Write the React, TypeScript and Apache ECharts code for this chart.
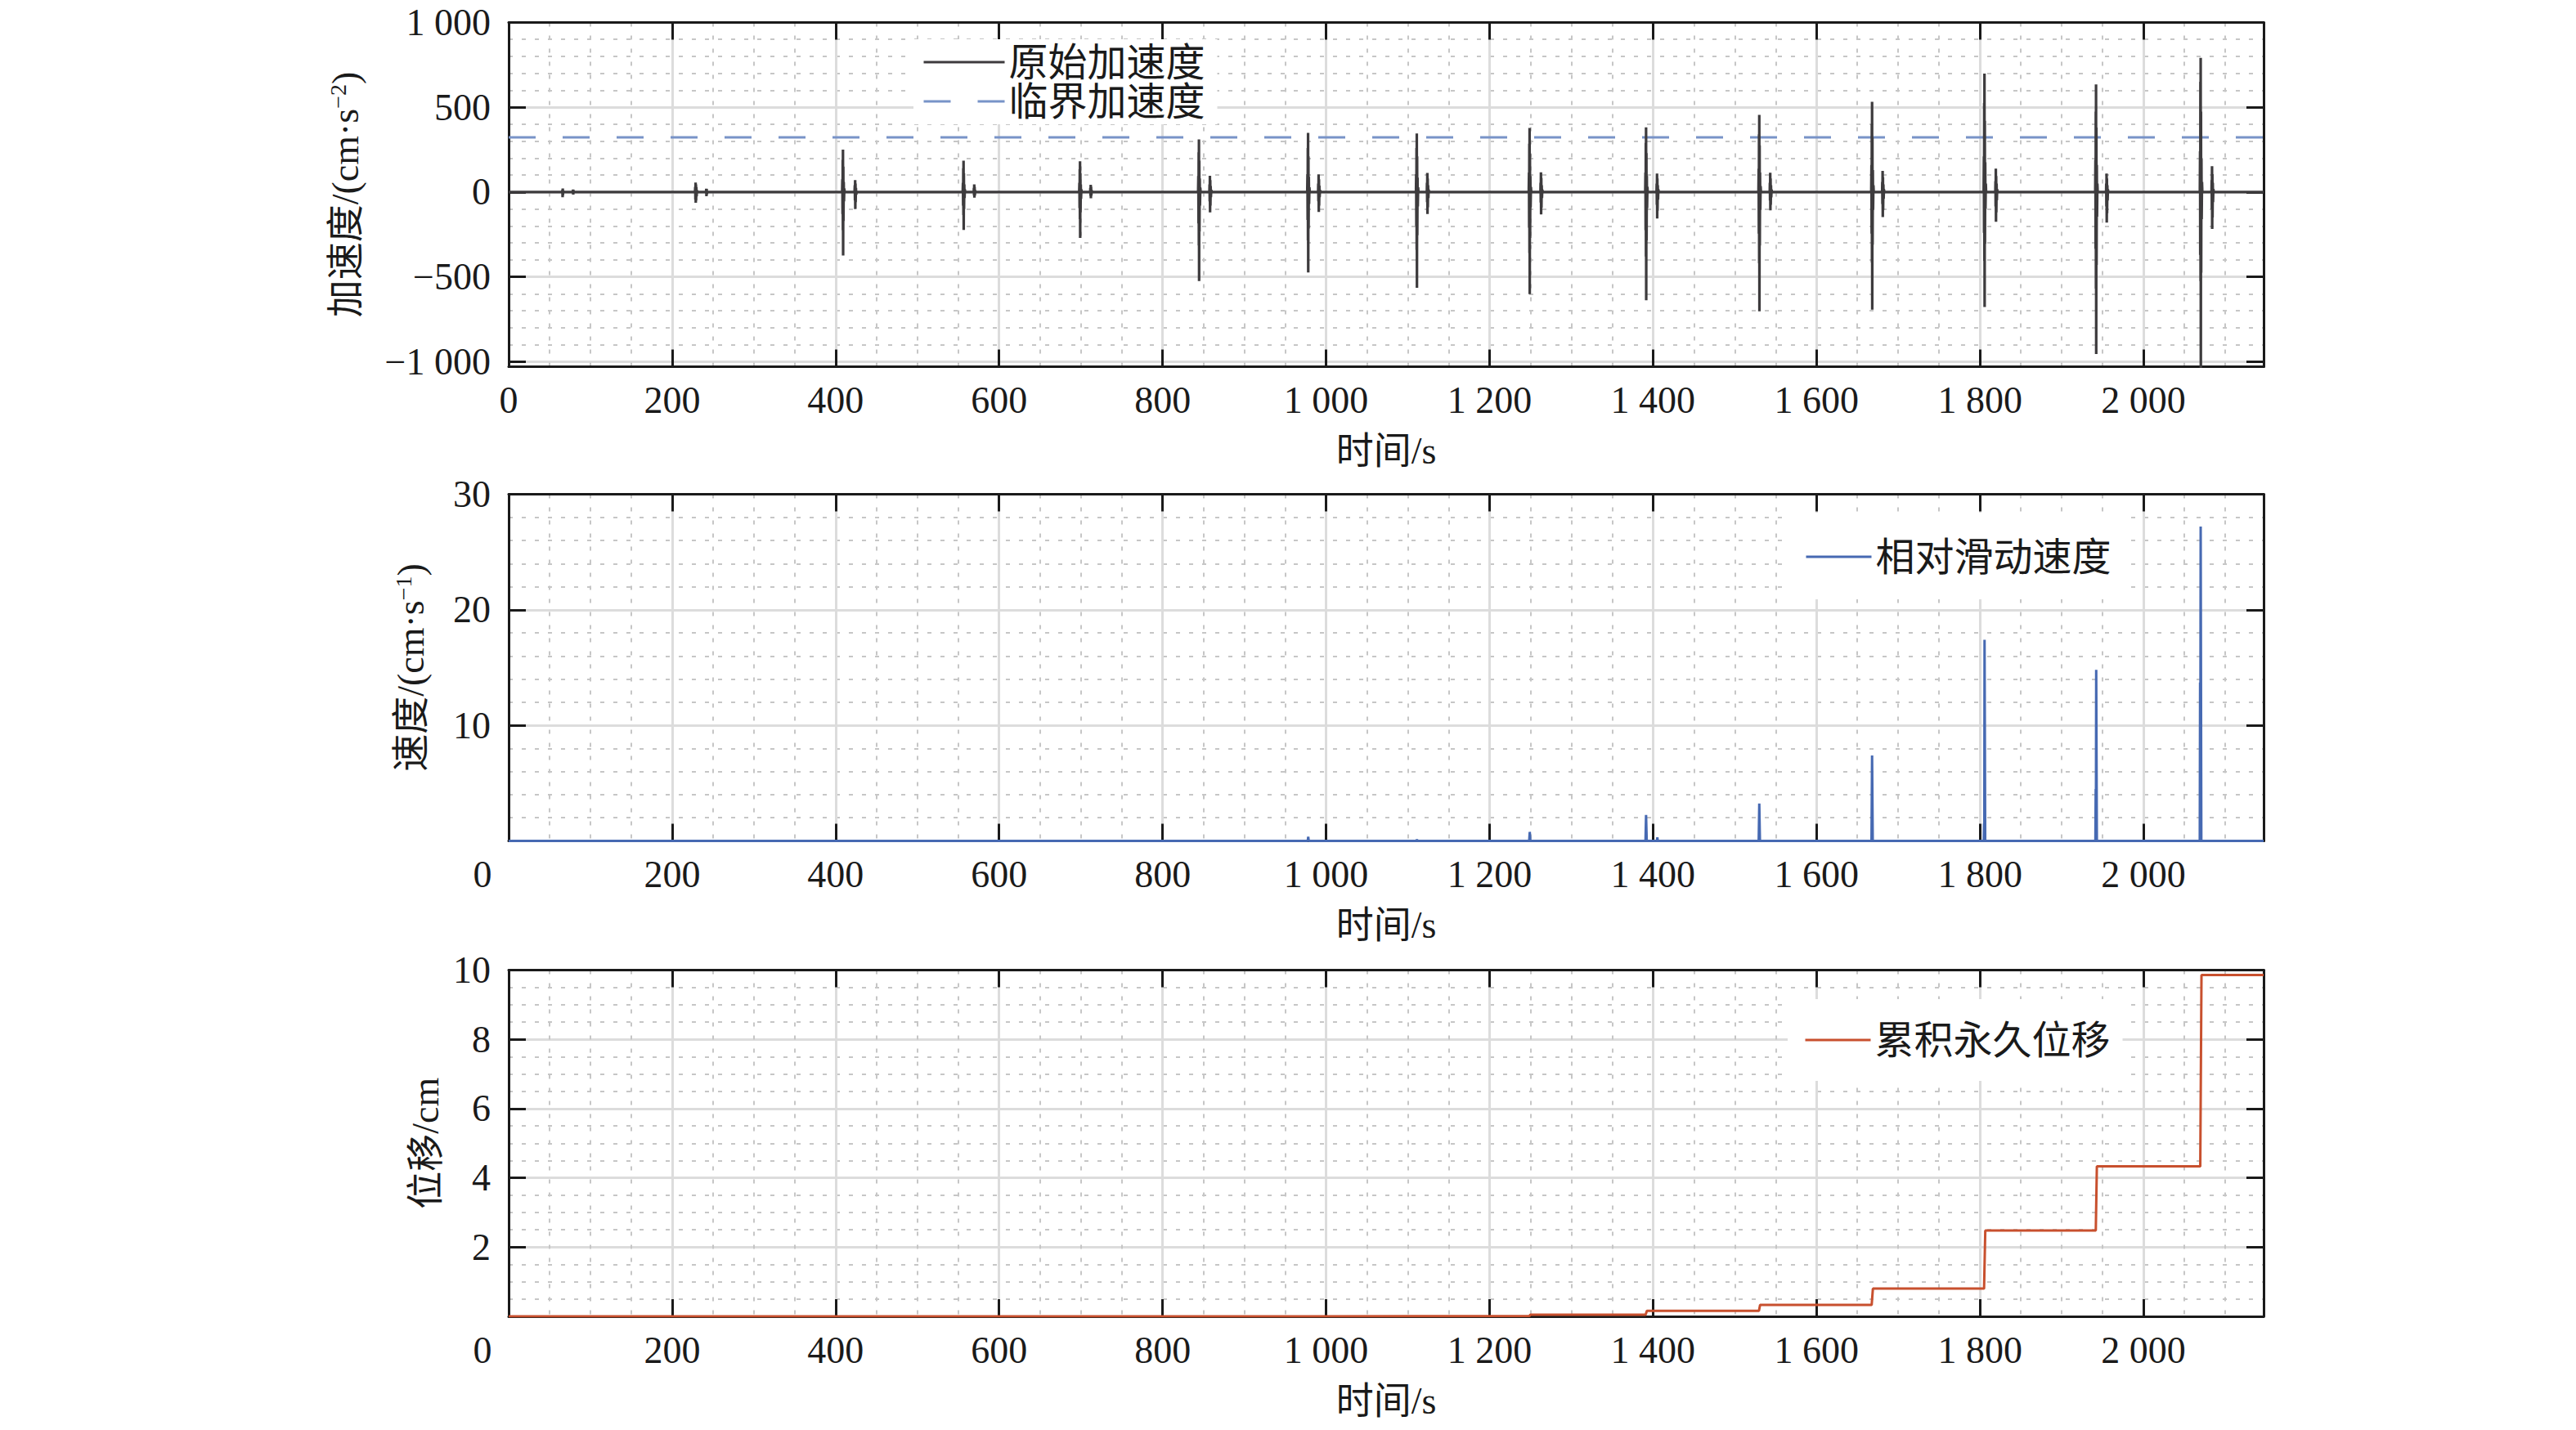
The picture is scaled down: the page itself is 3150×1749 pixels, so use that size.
import React, { useEffect, useRef } from "react";
import * as echarts from "echarts";

const FONT = "'Liberation Serif', 'Noto Sans CJK SC', serif";
const INK = "#1a1a1a";

// ---- data ----
const X_MAX = 2147;
const xTickInterval = 200;

const accelYTicks = [-1000, -500, 0, 500, 1000];
const accelYMinor = [-900, -800, -700, -600, -400, -300, -200, -100, 100, 200, 300, 400, 600, 700, 800, 900];
const criticalAccel = 323;

// ground acceleration trace [time s, accel cm/s^2]
const accelTrace: number[][] = [
  [0, 0],
  [65.5, 0], [65.8, 12], [66, -30], [66.2, 21], [66.4, -18], [66.7, 8], [67, 0],
  [78.6, 0], [78.8, 15], [79, -15], [79.2, 10], [79.5, 0],
  [228, 0], [228.3, 30], [228.5, -45], [228.7, 56], [228.9, -63], [229.1, 45], [229.3, -50], [229.6, 30], [229.9, -25], [230.3, 10], [230.7, 0],
  [241.5, 0], [241.8, 20], [242, -25], [242.2, 18], [242.5, -12], [242.9, 0],
  [408, 0], [408.3, 75], [408.5, -130], [408.7, 190], [408.9, -225], [409, 250], [409.2, -374], [409.4, 150], [409.6, -170], [409.9, 60], [410.2, -55], [410.6, 20], [411, 0],
  [423.2, 0], [423.5, 40], [423.7, -50], [423.9, 70], [424.1, -100], [424.3, 50], [424.5, -60], [424.8, 25], [425.2, -15], [425.6, 0],
  [555.5, 0], [555.8, 55], [556, -80], [556.2, 140], [556.4, -135], [556.5, 185], [556.7, -223], [556.9, 110], [557.1, -100], [557.4, 45], [557.7, -35], [558.1, 15], [558.5, 0],
  [569, 0], [569.2, 25], [569.4, -20], [569.6, 45], [569.8, -33], [570, 30], [570.3, -20], [570.7, 10], [571.1, 0],
  [698, 0], [698.3, 55], [698.5, -95], [698.7, 135], [698.9, -160], [699, 182], [699.2, -270], [699.4, 110], [699.6, -120], [699.9, 45], [700.2, -40], [700.6, 15], [701, 0],
  [711.5, 0], [711.7, 25], [711.9, -22], [712.1, 43], [712.3, -37], [712.5, 30], [712.8, -20], [713.2, 10], [713.6, 0],
  [843.5, 0], [843.8, 95], [844, -185], [844.2, 235], [844.4, -315], [844.5, 311], [844.7, -525], [844.9, 185], [845.1, -235], [845.4, 80], [845.7, -80], [846.1, 25], [846.5, 0],
  [857.3, 0], [857.5, 45], [857.7, -55], [857.9, 96], [858.1, -120], [858.3, 70], [858.5, -80], [858.8, 35], [859.1, -30], [859.5, 12], [860, 0],
  [977, 0], [977.3, 105], [977.5, -165], [977.7, 260], [977.9, -285], [978, 349], [978.2, -474], [978.4, 210], [978.6, -215], [978.9, 90], [979.2, -70], [979.6, 28], [980, 0],
  [990.3, 0], [990.5, 50], [990.7, -55], [990.9, 104], [991.1, -117], [991.3, 75], [991.5, -80], [991.8, 38], [992.1, -30], [992.5, 12], [993, 0],
  [1110, 0], [1110.3, 105], [1110.5, -200], [1110.7, 260], [1110.9, -340], [1111, 346], [1111.2, -565], [1111.4, 210], [1111.6, -255], [1111.9, 85], [1112.2, -85], [1112.6, 28], [1113, 0],
  [1123.3, 0], [1123.5, 55], [1123.7, -60], [1123.9, 113], [1124.1, -129], [1124.3, 80], [1124.5, -90], [1124.8, 40], [1125.1, -35], [1125.5, 14], [1126, 0],
  [1248, 0], [1248.3, 115], [1248.5, -210], [1248.7, 285], [1248.9, -360], [1249, 378], [1249.2, -602], [1249.4, 225], [1249.6, -270], [1249.9, 95], [1250.2, -90], [1250.6, 30], [1251, 0],
  [1262.3, 0], [1262.5, 55], [1262.7, -62], [1262.9, 116], [1263.1, -132], [1263.3, 82], [1263.5, -92], [1263.8, 40], [1264.1, -35], [1264.5, 14], [1265, 0],
  [1390.5, 0], [1390.8, 115], [1391, -225], [1391.2, 290], [1391.4, -380], [1391.5, 382], [1391.7, -638], [1391.9, 230], [1392.1, -285], [1392.4, 95], [1392.7, -95], [1393.1, 30], [1393.5, 0],
  [1404.3, 0], [1404.5, 50], [1404.7, -75], [1404.9, 109], [1405.1, -156], [1405.3, 80], [1405.5, -110], [1405.8, 40], [1406.1, -45], [1406.5, 15], [1407, 0],
  [1529, 0], [1529.3, 135], [1529.5, -245], [1529.7, 340], [1529.9, -420], [1530, 455], [1530.2, -703], [1530.4, 275], [1530.6, -315], [1530.9, 115], [1531.2, -105], [1531.6, 35], [1532, 0],
  [1542.8, 0], [1543, 55], [1543.2, -50], [1543.4, 114], [1543.6, -108], [1543.8, 80], [1544, -75], [1544.3, 40], [1544.6, -32], [1545, 14], [1545.5, 0],
  [1667, 0], [1667.3, 160], [1667.5, -245], [1667.7, 400], [1667.9, -415], [1668, 532], [1668.2, -694], [1668.4, 320], [1668.6, -310], [1668.9, 130], [1669.2, -105], [1669.6, 40], [1670, 0],
  [1680.3, 0], [1680.5, 60], [1680.7, -70], [1680.9, 125], [1681.1, -148], [1681.3, 88], [1681.5, -105], [1681.8, 45], [1682.1, -40], [1682.5, 15], [1683, 0],
  [1804.5, 0], [1804.8, 210], [1805, -240], [1805.2, 525], [1805.4, -405], [1805.5, 699], [1805.7, -678], [1805.9, 420], [1806.1, -305], [1806.4, 175], [1806.7, -100], [1807.1, 50], [1807.5, 0],
  [1818.8, 0], [1819, 65], [1819.2, -85], [1819.4, 138], [1819.6, -175], [1819.8, 95], [1820, -120], [1820.3, 50], [1820.6, -48], [1821, 16], [1821.5, 0],
  [1941, 0], [1941.3, 190], [1941.5, -335], [1941.7, 475], [1941.9, -570], [1942, 635], [1942.2, -955], [1942.4, 380], [1942.6, -430], [1942.9, 160], [1943.2, -145], [1943.6, 50], [1944, 0],
  [1954.3, 0], [1954.5, 50], [1954.7, -85], [1954.9, 109], [1955.1, -180], [1955.3, 80], [1955.5, -125], [1955.8, 40], [1956.1, -50], [1956.5, 15], [1957, 0],
  [2069, 0], [2069.3, 240], [2069.5, -370], [2069.7, 650], [2069.9, -525], [2070, 792], [2070.2, -1060], [2070.4, 475], [2070.6, -475], [2070.9, 200], [2071.2, -160], [2071.6, 60], [2072, 0],
  [2083.3, 0], [2083.5, 70], [2083.7, -100], [2083.9, 152], [2084.1, -217], [2084.3, 105], [2084.5, -150], [2084.8, 55], [2085.1, -60], [2085.5, 18], [2086, 0],
  [2147, 0],
];

const criticalLine: number[][] = [
  [0, criticalAccel],
  [X_MAX, criticalAccel],
];

// relative sliding velocity [time s, cm/s]
const velocityTrace: number[][] = [
  [0, 0],
  [977.6, 0], [978.2, 0.35], [978.8, 0],
  [1110.6, 0], [1111.2, 0.12], [1111.8, 0],
  [1248.5, 0], [1249.2, 0.78], [1250, 0],
  [1390.8, 0], [1391.5, 2.25], [1392.3, 0],
  [1404.8, 0], [1405.3, 0.3], [1405.8, 0],
  [1529.3, 0], [1530, 3.24], [1530.8, 0],
  [1667.3, 0], [1668, 7.4], [1668.8, 0],
  [1804.6, 0], [1805, 1.5], [1805.3, 0.8], [1805.6, 17.4], [1806.4, 0],
  [1941.2, 0], [1941.6, 4.5], [1941.9, 3], [1942.2, 14.8], [1943, 0],
  [2068.9, 0], [2069.3, 13.7], [2069.6, 6], [2070, 27.2], [2070.8, 0],
  [2147, 0],
];

// cumulative permanent displacement [time s, cm]
const displacementTrace: number[][] = [
  [0, 0], [978, 0], [978.6, 0.005], [1111, 0.005], [1111.6, 0.01],
  [1248.8, 0.01], [1250, 0.05], [1391, 0.05], [1392.5, 0.16],
  [1529.6, 0.16], [1531, 0.33], [1667.5, 0.33], [1669, 0.8],
  [1805, 0.8], [1806.5, 2.48], [1941.7, 2.48], [1943, 4.33],
  [2069.5, 4.33], [2071, 9.86], [2147, 9.86],
];

const legendTop = ["原始加速度", "临界加速度"];
const legendMid = ["相对滑动速度"];
const legendBot = ["累积永久位移"];

// ---- helpers ----
function fmtNum(v: number): string {
  const a = Math.abs(v);
  const s = a >= 1000 ? Math.floor(a / 1000) + " " + String(a % 1000).padStart(3, "0") : String(a);
  return (v < 0 ? "\u2212" : "") + s;
}

const frameLine = { show: true, onZero: false, lineStyle: { color: INK, width: 3 } };
const tickStyle = { show: true, inside: true, length: 21, lineStyle: { color: INK, width: 3 } };
const majorSplit = { show: true, lineStyle: { color: "#dcdcdc", width: 3 } };
const minorSplit = { show: true, lineStyle: { color: "#c6c6c6", width: 2, type: [5, 11] } };
const labelBase = { fontSize: 46, fontFamily: FONT, color: INK };
const nameStyle = {
  fontSize: 46,
  fontFamily: FONT,
  color: INK,
  rich: {
    a: { fontSize: 46, fontFamily: FONT, color: INK },
    s: { fontSize: 28, fontFamily: FONT, color: INK, verticalAlign: "top" },
  },
};

function mainX(grid: number, shiftZero: boolean) {
  return {
    type: "value",
    gridIndex: grid,
    position: "bottom",
    min: 0,
    max: X_MAX,
    interval: xTickInterval,
    axisLine: frameLine,
    axisTick: tickStyle,
    axisLabel: {
      ...labelBase,
      margin: 18,
      showMaxLabel: false,
      formatter: (v: number) => (shiftZero && v === 0 ? "{z|0}" : fmtNum(v)),
      rich: { z: { ...labelBase, padding: [0, 64, 0, 0] } },
    },
    splitLine: majorSplit,
    minorTick: { show: false, splitNumber: 4 },
    minorSplitLine: minorSplit,
    name: "时间/s",
    nameLocation: "middle",
    nameGap: 80,
    nameTextStyle: { fontSize: 46, fontFamily: FONT, color: INK },
    z: 1,
  };
}

function mirrorX(grid: number) {
  return {
    type: "value",
    gridIndex: grid,
    position: "top",
    min: 0,
    max: X_MAX,
    interval: xTickInterval,
    axisLine: frameLine,
    axisTick: tickStyle,
    axisLabel: { show: false },
    splitLine: { show: false },
    z: 1,
  };
}

function legend(names: string[], left: number, top: number, itemWidth: number, padding: number[]) {
  return {
    data: names,
    orient: "vertical",
    left,
    top,
    itemWidth,
    itemHeight: 45,
    itemGap: 0,
    padding,
    backgroundColor: "#ffffff",
    borderWidth: 0,
    itemStyle: { opacity: 0, borderWidth: 0 },
    lineStyle: { width: 3 },
    textStyle: { fontSize: 48, fontFamily: FONT, color: INK, lineHeight: 45 },
    selectedMode: false,
  };
}

export default function App() {
  const ref = useRef<HTMLDivElement>(null);

  useEffect(() => {
    if (!ref.current) return;
    const chart = echarts.init(ref.current, undefined, { renderer: "svg" });

    const gridW = 2146;
    const option: any = {
      animation: false,
      backgroundColor: "#ffffff",
      grid: [
        { left: 622, top: 27.5, width: gridW, height: 421 },
        { left: 622, top: 604.5, width: gridW, height: 424 },
        { left: 622, top: 1186.5, width: gridW, height: 423.5 },
      ],
      xAxis: [mainX(0, false), mirrorX(0), mainX(1, true), mirrorX(1), mainX(2, true), mirrorX(2)],
      yAxis: [
        {
          type: "value",
          gridIndex: 0,
          position: "left",
          min: -1030,
          max: 1000,
          axisLine: frameLine,
          axisTick: { ...tickStyle, customValues: accelYTicks },
          axisLabel: { ...labelBase, margin: 22, customValues: accelYTicks, formatter: (v: number) => fmtNum(v) },
          splitLine: majorSplit,
          name: "{a|加速度/(cm·s}{s|\u22122}{a|)}",
          nameLocation: "middle",
          nameGap: 177,
          nameTextStyle: nameStyle,
          z: 1,
        },
        {
          type: "value",
          gridIndex: 0,
          position: "right",
          min: -1030,
          max: 1000,
          axisLine: frameLine,
          axisTick: { ...tickStyle, customValues: accelYTicks },
          axisLabel: { show: false, customValues: accelYTicks },
          splitLine: { show: false },
          z: 1,
        },
        {
          type: "value",
          gridIndex: 0,
          position: "left",
          min: -1030,
          max: 1000,
          axisLine: { show: false },
          axisTick: { show: false, customValues: accelYMinor },
          axisLabel: { show: false, customValues: accelYMinor },
          splitLine: minorSplit,
          z: 0,
        },
        {
          type: "value",
          gridIndex: 1,
          position: "left",
          min: 0,
          max: 30,
          interval: 10,
          axisLine: frameLine,
          axisTick: tickStyle,
          axisLabel: { ...labelBase, margin: 22, showMinLabel: false },
          splitLine: majorSplit,
          minorTick: { show: false, splitNumber: 5 },
          minorSplitLine: minorSplit,
          name: "{a|速度/(cm·s}{s|\u22121}{a|)}",
          nameLocation: "middle",
          nameGap: 97,
          nameTextStyle: nameStyle,
          z: 1,
        },
        {
          type: "value",
          gridIndex: 1,
          position: "right",
          min: 0,
          max: 30,
          interval: 10,
          axisLine: frameLine,
          axisTick: tickStyle,
          axisLabel: { show: false },
          splitLine: { show: false },
          z: 1,
        },
        {
          type: "value",
          gridIndex: 2,
          position: "left",
          min: 0,
          max: 10,
          interval: 2,
          axisLine: frameLine,
          axisTick: tickStyle,
          axisLabel: { ...labelBase, margin: 22, showMinLabel: false },
          splitLine: majorSplit,
          minorTick: { show: false, splitNumber: 4 },
          minorSplitLine: minorSplit,
          name: "位移/cm",
          nameLocation: "middle",
          nameGap: 74,
          nameTextStyle: { fontSize: 46, fontFamily: FONT, color: INK },
          z: 1,
        },
        {
          type: "value",
          gridIndex: 2,
          position: "right",
          min: 0,
          max: 10,
          interval: 2,
          axisLine: frameLine,
          axisTick: tickStyle,
          axisLabel: { show: false },
          splitLine: { show: false },
          z: 1,
        },
      ],
      legend: [
        legend(legendTop, 1117, 48, 99, [4, 15, 4, 11]),
        legend(legendMid, 2185, 627, 80, [30, 15, 28, 22]),
        legend(legendBot, 2186, 1222, 80, [26, 15, 26, 20]),
      ],
      series: [
        {
          name: legendTop[0],
          type: "line",
          xAxisIndex: 0,
          yAxisIndex: 0,
          data: accelTrace,
          symbol: "none",
          showSymbol: false,
          lineStyle: { color: "#3d3b3d", width: 3.2 },
          itemStyle: { color: "#3d3b3d" },
          z: 3,
        },
        {
          name: legendTop[1],
          type: "line",
          xAxisIndex: 0,
          yAxisIndex: 0,
          data: criticalLine,
          symbol: "none",
          showSymbol: false,
          lineStyle: { color: "#7893c8", width: 3, type: [33, 33] },
          itemStyle: { color: "#7893c8" },
          z: 2,
        },
        {
          name: legendMid[0],
          type: "line",
          xAxisIndex: 2,
          yAxisIndex: 3,
          data: velocityTrace,
          symbol: "none",
          showSymbol: false,
          lineStyle: { color: "#4669b2", width: 3 },
          itemStyle: { color: "#4669b2" },
          z: 3,
        },
        {
          name: legendBot[0],
          type: "line",
          xAxisIndex: 4,
          yAxisIndex: 5,
          data: displacementTrace,
          symbol: "none",
          showSymbol: false,
          lineStyle: { color: "#c8502e", width: 3 },
          itemStyle: { color: "#c8502e" },
          z: 3,
        },
      ],
    };

    chart.setOption(option);
    return () => chart.dispose();
  }, []);

  return (
    <div
      ref={ref}
      style={{ position: "absolute", left: 0, top: 0, width: 3150, height: 1749, background: "#ffffff" }}
    />
  );
}
